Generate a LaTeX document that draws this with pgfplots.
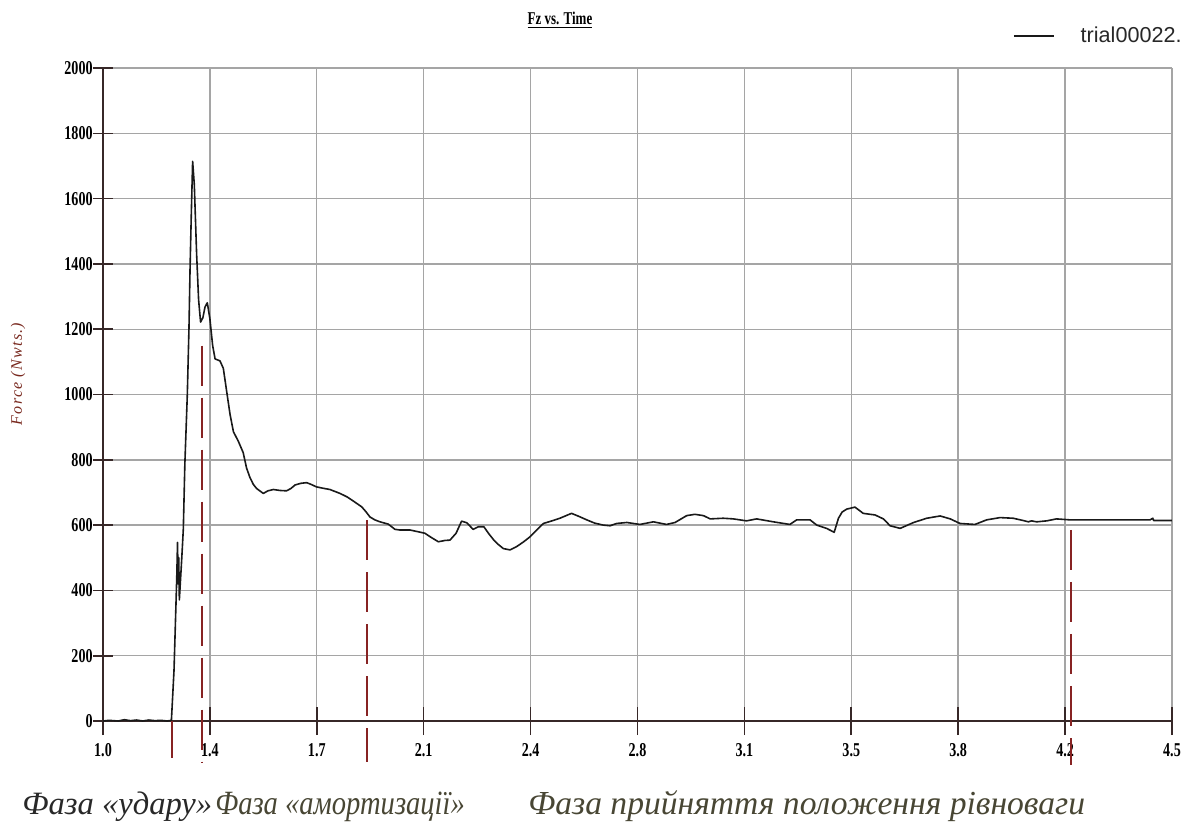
\documentclass[border=0pt]{standalone}
\usepackage{fontspec}
\setmainfont{Liberation Serif}
\newfontfamily\tickfont[FakeStretch=0.72]{Liberation Serif}
\newfontfamily\legfont{Liberation Sans}
\newfontfamily\ylabfont[LetterSpace=8]{Liberation Serif}
\usepackage{pgfplots}
\pgfplotsset{compat=1.18}
\definecolor{gridgray}{RGB}{165,165,165}
\definecolor{axisdark}{RGB}{55,40,40}
\definecolor{phasered}{RGB}{135,35,35}
\definecolor{ylabred}{RGB}{120,40,30}
\definecolor{txtdark}{RGB}{40,40,40}
\definecolor{txtolive}{RGB}{72,70,52}
\begin{document}
\begin{tikzpicture}
\begin{axis}[name=ax, at={(0,0)}, anchor=south west,
  scale only axis, width=534.5pt, height=326.5pt,
  xmin=1, xmax=4.5, ymin=0, ymax=2000,
  axis lines=left, axis line style={-, line width=1pt, color=axisdark},
  xtick={1,1.35,1.7,2.05,2.4,2.75,3.1,3.45,3.8,4.15,4.5},
  xticklabels={1.0,1.4,1.7,2.1,2.4,2.8,3.1,3.5,3.8,4.2,4.5},
  ytick={0,200,400,600,800,1000,1200,1400,1600,1800,2000},
  /pgf/number format/1000 sep={},
  /pgf/number format/assume math mode=true,
  grid=major, major grid style={gridgray, line width=0.7pt},
  tick align=center, tick style={axisdark, line width=0.8pt},
  xtick style={/pgfplots/major tick length=14pt},
  ytick style={/pgfplots/major tick length=10pt},
  ticklabel style={font=\tickfont\bfseries\fontsize{9.8}{10}\selectfont, text=black},
  yticklabel style={anchor=east, xshift=0.5pt},
  xticklabel style={anchor=north, yshift=-5.5pt},
  clip=false,
  legend style={at={(0.851,1.049)}, anchor=west, draw=none, fill=none, inner sep=0pt,
    font=\legfont\fontsize{10.8}{12}\selectfont, text=txtdark,
    /tikz/every odd column/.style={column sep=11pt}},
  legend image code/.code={\draw[#1] (0pt,0pt) -- (20pt,0pt);},
]
\addplot[black!90, line width=0.8pt, line join=round] coordinates {
(1.000,0) (1.02,2) (1.05,0) (1.07,4) (1.09,1) (1.11,3) (1.13,0) (1.15,3) (1.17,1) (1.19,2) (1.21,0) (1.224,2)
(1.2325,155) (1.239,360) (1.2415,440) (1.244,547) (1.246,420) (1.248,500) (1.250,371) (1.253,420) (1.258,500)
(1.263,588) (1.268,787) (1.276,998) (1.2815,1203) (1.285,1384) (1.289,1548) (1.2935,1714) (1.299,1642)
(1.3065,1431) (1.313,1290) (1.3195,1222) (1.327,1235) (1.334,1268) (1.3415,1281) (1.350,1232) (1.359,1150)
(1.367,1109) (1.383,1103) (1.394,1080) (1.405,1009) (1.416,939) (1.427,886) (1.443,857) (1.459,822)
(1.470,775) (1.481,746) (1.492,725) (1.503,712) (1.525,697) (1.540,705) (1.558,709) (1.580,706) (1.601,705)
(1.615,712) (1.629,723) (1.648,728) (1.667,730) (1.683,724) (1.699,717) (1.720,713) (1.743,709) (1.776,697)
(1.800,686) (1.819,674) (1.847,656) (1.860,642) (1.874,625) (1.890,616) (1.907,610) (1.934,603) (1.956,587)
(1.972,585) (2.005,585) (2.030,580) (2.054,575) (2.075,562) (2.098,549) (2.120,553) (2.136,554) (2.156,575)
(2.174,612) (2.185,609) (2.191,607) (2.212,587) (2.229,595) (2.247,595) (2.262,575) (2.278,556) (2.295,540)
(2.311,528) (2.333,524) (2.354,534) (2.376,548) (2.398,564) (2.420,585) (2.442,605) (2.470,613) (2.496,621)
(2.534,636) (2.560,626) (2.584,616) (2.610,606) (2.638,600) (2.660,598) (2.682,605) (2.715,608) (2.758,602)
(2.802,610) (2.845,602) (2.873,608) (2.911,629) (2.938,633) (2.966,629) (2.988,619) (3.031,621) (3.064,619)
(3.107,613) (3.140,619) (3.195,610) (3.249,602) (3.271,616) (3.315,616) (3.337,600) (3.369,590) (3.394,578)
(3.408,621) (3.420,640) (3.435,649) (3.462,655) (3.489,636) (3.528,631) (3.555,619) (3.577,598) (3.610,590)
(3.654,608) (3.697,621) (3.741,628) (3.774,619) (3.806,605) (3.855,602) (3.893,616) (3.937,623) (3.980,621)
(4.013,614) (4.030,610) (4.040,613) (4.057,610) (4.090,613) (4.122,619) (4.166,616) (4.300,616) (4.428,616)
(4.437,621) (4.440,614) (4.500,614)
};
\addlegendentry{trial00022.}
\addplot[forget plot, phasered, line width=0.8pt] coordinates {(1.226,0) (1.226,-112)};
\addplot[forget plot, phasered, line width=0.8pt, dash pattern=on 20pt off 6pt] coordinates {(1.324,1150) (1.324,-125)};
\addplot[forget plot, phasered, line width=0.8pt, dash pattern=on 20pt off 6pt] coordinates {(1.864,615) (1.864,-125)};
\addplot[forget plot, phasered, line width=0.9pt, dash pattern=on 20pt off 6pt] coordinates {(4.17,585) (4.17,-135)};
\end{axis}
\begin{scope}[shift={(ax.south west)}]
\node[font=\tickfont\bfseries\fontsize{9}{10}\selectfont, text=black] at (228.5pt,350.5pt) {\underline{Fz vs. Time}};
\node[rotate=90, font=\ylabfont\itshape\fontsize{8}{9}\selectfont, text=ylabred] at (-42.5pt,173.5pt) {Force (Nwts.)};
\node[anchor=base west, inner sep=0pt, font=\itshape\fontsize{16.3}{20}\selectfont, text=txtdark] at (-40.5pt,-46.5pt) {Фаза «удару»};
\node[anchor=base west, inner sep=0pt, xscale=0.84, font=\itshape\fontsize{17}{20}\selectfont, text=txtolive] at (56pt,-46.5pt) {Фаза «амортизації»};
\node[anchor=base west, inner sep=0pt, font=\itshape\fontsize{16.8}{20}\selectfont, text=txtolive] at (212.5pt,-46.5pt) {Фаза прийняття положення рівноваги};
\end{scope}
\pgfresetboundingbox
\useasboundingbox (ax.south west) ++(-51.5pt,-52.5pt) rectangle ++(598pt,413pt);
\end{tikzpicture}
\end{document}
